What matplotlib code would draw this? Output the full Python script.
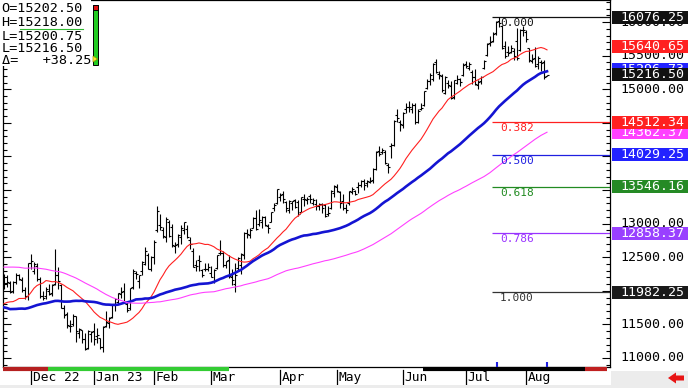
import numpy as np
import pandas as pd
import matplotlib
matplotlib.use("Agg")
import matplotlib.pyplot as plt
import matplotlib.transforms as mtrans
from matplotlib.patches import Rectangle, Polygon
from matplotlib.lines import Line2D
import matplotlib.ticker as tick

# closes before the visible window (only feed the moving averages)
warmup_close = [
    12030, 12050, 12000,
    12080, 12320, 12400, 12660, 12630, 12370, 12250, 12240, 12290, 12490,
    12380, 12770, 12960, 13130, 12900, 12830, 12580, 13090, 13210, 13450,
    13410, 13370, 13700, 13730, 13640, 13590, 13430, 13790, 13720, 14010, 14100, 14070,
    13870, 13910, 13640, 13310, 13300, 13340, 13550, 12640, 12480, 12350, 12320,
    12330, 12130, 12060, 12310, 12360, 12630, 12770, 12060, 12170, 11980, 11950,
    12040, 11940, 11740, 11590, 11420, 11360, 11390, 11690, 11370, 11470,
    11740, 12090, 12020, 11930, 11500, 11390, 11260, 11240, 11500, 11190, 11520,
    11590, 11520, 11460, 11720, 11820, 12060, 11830, 11650, 11990, 11910,
    11750, 11330, 11140, 11370, 11490, 11580, 11300, 12100, 12300, 12180, 12330, 12180,
]

# visible daily bars, 17 Nov 2022 .. 10 Aug 2023
opens = [
    12150, 12120, 12110, 11990, 12130, 12230, 12160, 12010, 11920,
    12420, 12300, 12370, 12170, 11920, 11920, 12000, 11960, 12100, 12230, 12090,
    11740, 11650, 11470, 11500, 11620, 11370, 11410, 11280, 11150, 11350,
    11400, 11320, 11290, 11170, 11480, 11520, 11610, 11800, 11840, 11950,
    12000, 11800, 11740, 12050, 12260, 12150, 12300, 12400, 12540, 12320,
    12500, 12900, 12980, 12900, 12800, 13020, 12950, 12660, 12700, 12800,
    12900, 12920, 12760, 12600, 12380, 12460, 12310, 12330, 12320,
    12270, 12150, 12340, 12560, 12560, 12390, 12460, 12210, 12100, 12340, 12380, 12530,
    12860, 12830, 12940, 13080, 12990, 13020, 13100, 12960, 13030, 13230, 13300,
    13400, 13440, 13320, 13200, 13300, 13350, 13320, 13180, 13370, 13350,
    13410, 13300, 13290, 13270, 13290, 13280, 13150, 13230, 13450,
    13550, 13470, 13330, 13230, 13300, 13470, 13480, 13550, 13580, 13640, 13600,
    13620, 13650, 13820, 14080, 14060, 14060, 13880, 14160, 14170, 14620, 14520,
    14470, 14700, 14740, 14710, 14760, 14520, 14710, 14760, 15020, 15130, 15150,
    15400, 15230, 15200, 14950, 15100, 15050, 14880, 15100, 15150, 15220,
    15380, 15320, 15260, 15190, 15070, 15130, 15320, 15510, 15690, 15720,
    15840, 16010, 15940, 15650, 15560, 15560, 15570, 15720, 15580, 15890,
    15860, 15610, 15420, 15470, 15380, 15400, 15400, 15202.50,
]
highs = [
    12250, 12230, 12140, 12140, 12270, 12250, 12200, 12060, 12420,
    12550, 12430, 12420, 12200, 12000, 12050, 12100, 12100, 12620, 12350, 12100,
    11790, 11680, 11560, 11660, 11630, 11450, 11420, 11370, 11420, 11400,
    11520, 11440, 11300, 11480, 11700, 11610, 11800, 11900, 11970, 12050,
    12110, 11830, 12040, 12320, 12300, 12240, 12440, 12650, 12560, 12520,
    12760, 13260, 13150, 12950, 13100, 13060, 13000, 12720, 12850, 12980,
    13030, 12980, 12800, 12630, 12460, 12530, 12330, 12410, 12420,
    12370, 12330, 12530, 12760, 12600, 12450, 12540, 12330, 12420, 12500, 12560, 12880,
    12920, 12930, 13100, 13200, 13220, 13110, 13120, 12990, 13170, 13300, 13510,
    13460, 13480, 13330, 13350, 13340, 13370, 13350, 13400, 13440, 13390,
    13440, 13380, 13360, 13310, 13300, 13290, 13260, 13500, 13570,
    13590, 13490, 13440, 13290, 13490, 13540, 13500, 13620, 13650, 13660, 13650,
    13690, 13830, 14080, 14150, 14130, 14090, 13900, 14200, 14550, 14700, 14550,
    14660, 14790, 14820, 14790, 14790, 14700, 14800, 14980, 15160, 15250, 15390,
    15450, 15270, 15230, 15200, 15140, 15120, 15140, 15210, 15170, 15390,
    15420, 15410, 15280, 15300, 15140, 15200, 15440, 15690, 15800, 15860,
    16020, 16076.25, 15960, 15720, 15640, 15660, 15620, 15910, 15900, 15940,
    15880, 15620, 15530, 15630, 15500, 15440, 15440, 15218.00,
]
lows = [
    12020, 12050, 11960, 11970, 12100, 12160, 11980, 11880, 11870,
    12330, 12250, 12150, 11890, 11860, 11880, 11940, 11920, 12080, 12020, 11740,
    11590, 11450, 11390, 11480, 11240, 11300, 11230, 11120, 11140, 11240,
    11200, 11220, 11130, 11090, 11460, 11450, 11600, 11700, 11800, 11900,
    11820, 11680, 11720, 12030, 12180, 12040, 12240, 12380, 12320, 12300,
    12400, 12880, 12900, 12780, 12720, 12800, 12650, 12570, 12650, 12700,
    12850, 12780, 12620, 12350, 12300, 12300, 12200, 12300, 12300,
    12200, 12120, 12330, 12530, 12360, 12340, 12190, 12090, 11982.25, 12300, 12250, 12470,
    12780, 12780, 12930, 12910, 12960, 12940, 12970, 12860, 13020, 13190, 13290,
    13330, 13300, 13170, 13160, 13200, 13240, 13120, 13170, 13260, 13290,
    13300, 13280, 13210, 13200, 13160, 13100, 13110, 13220, 13400,
    13470, 13230, 13210, 13160, 13280, 13440, 13420, 13460, 13550, 13500, 13550,
    13600, 13610, 13800, 14000, 14040, 13890, 13760, 13980, 14150, 14520, 14380,
    14420, 14640, 14660, 14650, 14490, 14500, 14690, 14750, 15000, 15070, 15120,
    15250, 15150, 14960, 14930, 15020, 14860, 14850, 15080, 15050, 15200,
    15320, 15280, 15080, 15070, 15010, 15080, 15300, 15500, 15640, 15700,
    15810, 15930, 15600, 15460, 15490, 15540, 15430, 15430, 15570, 15800,
    15700, 15400, 15390, 15330, 15300, 15270, 15150, 15200.75,
]
closes = [
    12110, 12130, 11980, 12130, 12230, 12180, 12010, 11920, 12410,
    12440, 12400, 12170, 11930, 11890, 12030, 11950, 12090, 12230, 12140, 11750,
    11640, 11490, 11470, 11630, 11400, 11435, 11280, 11130, 11400, 11390,
    11280, 11335, 11160, 11460, 11530, 11600, 11800, 11880, 11960, 11980,
    11830, 11720, 12040, 12290, 12250, 12230, 12430, 12590, 12320, 12510,
    12730, 13190, 12950, 12820, 13070, 12820, 12680, 12680, 12830, 12940,
    13020, 12800, 12700, 12360, 12370, 12440, 12240, 12330, 12350,
    12200, 12310, 12530, 12570, 12390, 12440, 12220, 12160, 12240, 12490, 12550, 12860,
    12850, 12910, 13090, 12920, 13060, 13100, 12980, 12930, 13170, 13280, 13510,
    13420, 13360, 13230, 13340, 13330, 13250, 13140, 13390, 13360, 13360,
    13360, 13350, 13260, 13290, 13240, 13110, 13160, 13480, 13560,
    13480, 13310, 13230, 13210, 13480, 13520, 13440, 13580, 13630, 13580, 13640,
    13630, 13810, 14070, 14040, 14090, 13900, 13840, 14170, 14530, 14580, 14480,
    14640, 14730, 14730, 14760, 14510, 14680, 14720, 14970, 15120, 15220, 15370,
    15260, 15210, 14990, 15190, 15070, 14870, 15140, 15150, 15110, 15360,
    15340, 15370, 15180, 15080, 15110, 15190, 15420, 15670, 15710, 15830,
    16000, 15980, 15620, 15500, 15540, 15620, 15490, 15460, 15880, 15880,
    15750, 15430, 15450, 15350, 15470, 15390, 15178.25, 15216.50,
]

holidays = ["2022-07-04", "2022-09-05", "2022-11-24", "2022-12-26", "2023-01-02",
            "2023-01-16", "2023-02-20", "2023-04-07", "2023-05-29", "2023-06-19", "2023-07-04"]
month_labels = ["Dec 22", "Jan 23", "Feb", "Mar", "Apr", "May", "Jun", "Jul", "Aug"]
fib_ratios = [0.0, 0.382, 0.5, 0.618, 0.786, 1.0]
fib_colors = ["#111111", "#ff2020", "#2020e0", "#228b22", "#9933ff", "#333333"]
ma_periods = [20, 50, 100]
ma_colors = ["#ff2020", "#1414d2", "#ff40ff"]
ma_widths = [0.8, 1.9, 0.8]
ma_last_text = ["15640.65", "15296.73", "14362.37"]   # as printed on the source chart

# info panel
info_lines = ["O=15202.50", "H=15218.00", "L=15200.75", "L=15216.50", "\u0394=   +38.25"]

W, H = 688, 388
MONO = "DejaVu Sans Mono"


def fx(px):
    return px / W


def fy(py):
    return 1 - py / H


n = len(closes)
x = np.arange(n)

days = pd.bdate_range("2022-06-20", "2023-08-10")
days = days[~days.isin(pd.to_datetime(holidays))]
dates = days[-(len(warmup_close) + n):][-n:]

full = pd.Series(warmup_close + closes, dtype=float)

fig = plt.figure(figsize=(W / 100, H / 100), dpi=100)
fig.patch.set_facecolor("white")
ax = fig.add_axes([fx(3), fy(367), fx(610) - fx(3), fy(0) - fy(367)])
ax.set_xlim(-0.33, 202)
ax.set_ylim(10865.7, 16329.4)

# OHLC bars
ax.vlines(x, lows, highs, color="black", lw=0.8, zorder=3)
ax.hlines(opens, x - 0.8, x, color="black", lw=0.8, zorder=3)
ax.hlines(closes, x, x + 0.8, color="black", lw=0.8, zorder=3)

# moving averages
for p, c, w in zip(ma_periods, ma_colors, ma_widths):
    ma = full.rolling(p).mean().values[-n:]
    ax.plot(x, ma, color=c, lw=w, zorder=4)

# fibonacci retracement from the March low to the July high
mar_start = int(np.argmax((dates.month == 3) & (dates.year == 2023)))
peak = int(np.argmax(highs))
fib_high = max(highs)
fib_low = min(lows[mar_start:])
fib_levels = [fib_high - r * (fib_high - fib_low) for r in fib_ratios]
for r, lv, c in zip(fib_ratios, fib_levels, fib_colors):
    ax.hlines(lv, peak - 2.3, 202, color=c, lw=0.9, zorder=2)
    ax.text(peak + 0.3, lv - 20, f"{r:.3f}", color=c, fontsize=8, family=MONO,
            va="top", ha="left", zorder=5)

# axes cosmetics
for s in ax.spines.values():
    s.set_color("black")
    s.set_linewidth(0.9)
ax.set_xticks([])
ax.yaxis.set_major_locator(tick.MultipleLocator(500))
ax.yaxis.set_minor_locator(tick.MultipleLocator(100))
ax.tick_params(axis="y", which="both", left=True, right=True, labelleft=False,
               labelright=False, direction="in", color="black", width=0.8)
ax.tick_params(axis="y", which="major", length=6)
ax.tick_params(axis="y", which="minor", length=3)

boxes = [
    (float(ma_last_text[2]), ma_last_text[2], ma_colors[2]),
    (float(ma_last_text[1]), ma_last_text[1], "#2222ff"),
    (fib_levels[0], f"{fib_levels[0]:.2f}", "#111111"),
    (float(ma_last_text[0]), ma_last_text[0], "#ff2020"),
    (fib_levels[1], f"{fib_levels[1]:.2f}", "#ff2020"),
    (fib_levels[2], f"{fib_levels[2]:.2f}", "#2222ff"),
    (fib_levels[3], f"{fib_levels[3]:.2f}", "#258a25"),
    (fib_levels[4], f"{fib_levels[4]:.2f}", "#9940ff"),
    (fib_levels[5], f"{fib_levels[5]:.2f}", "#1a1a1a"),
    (closes[-1], f"{closes[-1]:.2f}", "#111111"),
]

# right-hand price scale (labels that sit fully under a box are not drawn)
rblend = mtrans.blended_transform_factory(fig.transFigure, ax.transData)
for v in range(11000, 16001, 500):
    if any(abs(v - b[0]) < 60 for b in boxes):
        continue
    ax.text(fx(684), v, f"{v:.2f}", transform=rblend, ha="right", va="center",
            fontsize=9.5, family=MONO, color="black", zorder=6, clip_on=False)

half = 6.5 * 14.887
for i, (v, t, c) in enumerate(boxes):
    z = 7 + i * 0.1
    ax.add_patch(Rectangle((fx(612), v - half), 1 - fx(612), 2 * half, transform=rblend,
                           facecolor=c, edgecolor="none", clip_on=False, zorder=z))
    ax.text(fx(684), v, t, transform=rblend, ha="right", va="center", fontsize=9.5,
            family=MONO, color="white", zorder=z + 0.05, clip_on=False)

# signal strip under the price pane
bblend = mtrans.blended_transform_factory(ax.transData, ax.transAxes)
signal_bands = [(-0.33, 14.7, "#b52020"), (14.7, 75, "#33cc33"),
                (139.7, 193.7, "#000000"), (193.7, 201, "#c02020")]
for a, b, c in signal_bands:
    ax.add_line(Line2D([a, b], [-0.005, -0.005], transform=bblend, color=c, lw=3,
                       solid_capstyle="butt", clip_on=False, zorder=5))
ax.vlines([peak - 0.7, n - 1], 0, 0.014, transform=bblend, color="#2020e0", lw=1.5, zorder=5)

# month separators and labels
month_starts = [i for i in range(1, n) if dates[i].month != dates[i - 1].month]
for i, lab in zip(month_starts, month_labels):
    ax.add_line(Line2D([i, i], [-0.009, -0.047], transform=bblend, color="black", lw=0.9,
                       clip_on=False))
    ax.text(i + 0.6, -0.029, lab, transform=bblend, ha="left", va="center",
            fontsize=9.3, family=MONO, color="black")

# grey frame bits and the red arrow
fig.add_artist(Rectangle((0, 0), 1, 3 / H, transform=fig.transFigure,
                         facecolor="#ececec", edgecolor="none", zorder=1))
fig.add_artist(Rectangle((fx(611), 0), 1 - fx(611), (H - 371) / H, transform=fig.transFigure,
                         facecolor="#ececec", edgecolor="none", zorder=1))
arrow = [(668, 378), (676, 372.5), (676, 375.5), (684, 375.5), (684, 380.5),
         (676, 380.5), (676, 383.5)]
fig.add_artist(Polygon([(fx(a), fy(b)) for a, b in arrow], closed=True,
                       transform=fig.transFigure, facecolor="#e81515", edgecolor="none", zorder=2))

# info box, top left
fig.add_artist(Rectangle((0, fy(66)), fx(91), 66 / H, transform=fig.transFigure,
                         facecolor="white", edgecolor="none", zorder=10))
for t, yy in zip(info_lines, [9, 22, 37, 49, 61]):
    fig.text(fx(1.5), fy(yy), t, ha="left", va="center", fontsize=9.7, family=MONO,
             color="black", zorder=11)
fig.add_artist(Line2D([fx(20), fx(83)], [fy(29), fy(29)], transform=fig.transFigure,
                      color="#33bb33", lw=0.8, zorder=11))
fig.add_artist(Rectangle((fx(93), fy(65)), fx(5), 60 / H, transform=fig.transFigure,
                         facecolor="#22cc22", edgecolor="black", lw=0.7, zorder=11))
fig.add_artist(Rectangle((fx(93), fy(10)), fx(5), 5 / H, transform=fig.transFigure,
                         facecolor="#dd1111", edgecolor="black", lw=0.7, zorder=12))
fig.add_artist(Polygon([(fx(93), fy(56)), (fx(97.5), fy(59)), (fx(93), fy(62))], closed=True,
                       transform=fig.transFigure, facecolor="#ffee33", edgecolor="#999900",
                       lw=0.5, zorder=12))

fig.savefig("out.png", dpi=100, facecolor=fig.get_facecolor())
